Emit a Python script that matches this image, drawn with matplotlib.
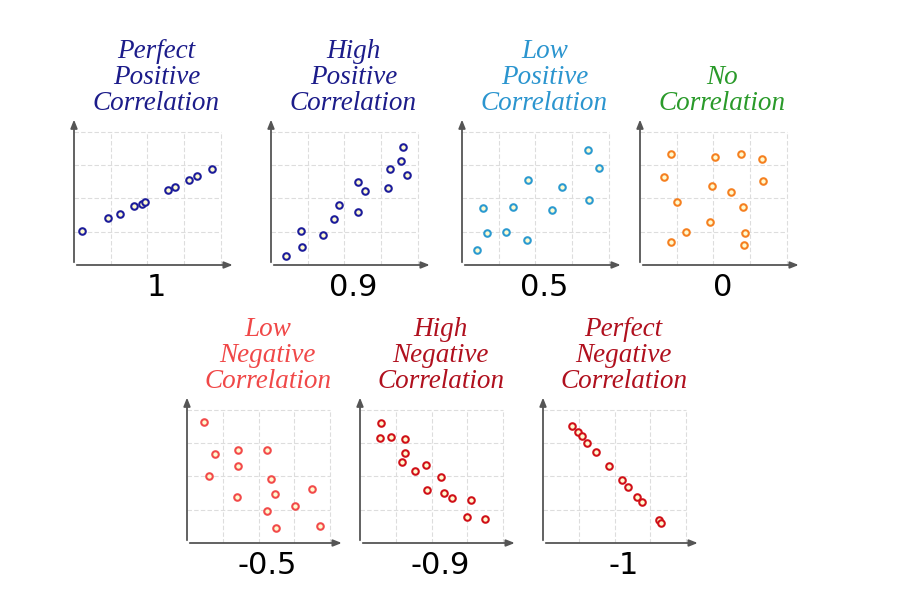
import matplotlib
matplotlib.use("Agg")
import matplotlib.pyplot as plt

titles = ["Perfect\nPositive\nCorrelation", "High\nPositive\nCorrelation", "Low\nPositive\nCorrelation",
          "No\nCorrelation", "Low\nNegative\nCorrelation", "High\nNegative\nCorrelation",
          "Perfect\nNegative\nCorrelation"]
labels = ["1", "0.9", "0.5", "0", "-0.5", "-0.9", "-1"]
title_colors = ["#1c1c8a", "#1c1c8a", "#2b95cf", "#2a9a2a", "#f04848", "#b0101e", "#b0101e"]
point_colors = ["#1c1c9a", "#1c1c9a", "#2b9ad0", "#f58020", "#f24a4a", "#d01018", "#d01018"]

x1 = [0.23, 0.94, 1.24, 1.64, 1.85, 1.93, 2.55, 2.75, 3.14, 3.35, 3.77]
y1 = [1.03, 1.40, 1.54, 1.76, 1.84, 1.90, 2.24, 2.34, 2.55, 2.68, 2.89]
x2 = [0.40, 0.81, 0.85, 1.41, 1.72, 1.85, 2.38, 2.38, 2.55, 3.18, 3.25, 3.55, 3.61, 3.71]
y2 = [0.27, 1.01, 0.54, 0.91, 1.39, 1.80, 2.50, 1.59, 2.23, 2.32, 2.89, 3.13, 3.53, 2.71]
x3 = [0.40, 0.57, 0.68, 1.19, 1.40, 1.77, 1.79, 2.45, 2.73, 3.43, 3.45, 3.72]
y3 = [0.45, 1.72, 0.96, 0.99, 1.74, 0.76, 2.56, 1.66, 2.34, 3.46, 1.94, 2.90]
x4 = [0.85, 0.66, 1.01, 1.25, 0.84, 2.03, 1.95, 1.90, 2.49, 2.75, 2.82, 2.85, 2.83, 3.32, 3.35]
y4 = [3.34, 2.65, 1.88, 0.98, 0.69, 3.24, 2.37, 1.29, 2.18, 3.33, 1.73, 0.95, 0.60, 3.19, 2.52]
x5 = [0.48, 0.79, 0.61, 1.42, 1.42, 1.39, 2.23, 2.36, 2.45, 2.23, 2.49, 3.01, 3.49, 3.72]
y5 = [3.63, 2.66, 2.02, 2.79, 2.30, 1.39, 2.79, 1.92, 1.46, 0.97, 0.44, 1.11, 1.61, 0.50]
x6 = [0.58, 0.56, 0.86, 1.25, 1.27, 1.18, 1.53, 1.84, 2.27, 1.88, 2.35, 2.58, 3.11, 3.00, 3.50]
y6 = [3.61, 3.14, 3.19, 3.12, 2.70, 2.44, 2.15, 2.35, 1.99, 1.58, 1.50, 1.34, 1.29, 0.77, 0.73]
x7 = [0.82, 0.98, 1.09, 1.24, 1.48, 1.85, 2.21, 2.38, 2.63, 2.77, 3.25, 3.30]
y7 = [3.51, 3.32, 3.20, 3.01, 2.74, 2.30, 1.88, 1.69, 1.39, 1.23, 0.68, 0.61]
xs = [x1, x2, x3, x4, x5, x6, x7]
ys = [y1, y2, y3, y4, y5, y6, y7]

W, H = 904, 602
origins = [(74, 265), (271, 265), (462, 265), (640, 265), (187, 543), (360, 543), (543, 543)]
ux = [36.7, 36.7, 36.7, 36.7, 35.8, 35.8, 35.8]
uy = 33.3
XL, YL = 4.4, 4.45

fig = plt.figure(figsize=(W / 100, H / 100), dpi=100)
for i in range(7):
    ox, oy = origins[i]
    w = XL * ux[i]
    h = YL * uy
    ax = fig.add_axes([ox / W, 1 - oy / H, w / W, h / H])
    ax.set_xlim(0, XL)
    ax.set_ylim(0, YL)
    ax.axis("off")
    for g in [1, 2, 3, 4]:
        ax.plot([g, g], [0, 4], color="#dddddd", lw=0.8, ls=(0, (4, 2)), zorder=1)
        ax.plot([0, 4], [g, g], color="#dddddd", lw=0.8, ls=(0, (4, 2)), zorder=1)
    ax.annotate("", xy=(XL, 0), xytext=(0, 0),
                arrowprops=dict(arrowstyle="-|>,head_length=0.5,head_width=0.2", color="#555555", lw=1.3))
    ax.annotate("", xy=(0, YL), xytext=(0, 0),
                arrowprops=dict(arrowstyle="-|>,head_length=0.5,head_width=0.2", color="#555555", lw=1.3))
    ax.scatter(xs[i], ys[i], s=22, facecolor="#fffbd0", edgecolor=point_colors[i], linewidth=1.5, zorder=3, clip_on=False)
    cx = (ox + 2 * ux[i] + 9) / W
    top = oy - 4 * uy
    lines = titles[i].split("\n")
    for k, line in enumerate(reversed(lines)):
        fig.text(cx, 1 - (top - 28 - 26 * k) / H, line, ha="center", va="center", color=title_colors[i],
                 fontsize=19.5, style="italic", family="Liberation Serif")
    fig.text(cx, 1 - (oy + 23) / H, labels[i], ha="center", va="center", fontsize=22, family="DejaVu Sans")

fig.savefig("out.png", dpi=100)
